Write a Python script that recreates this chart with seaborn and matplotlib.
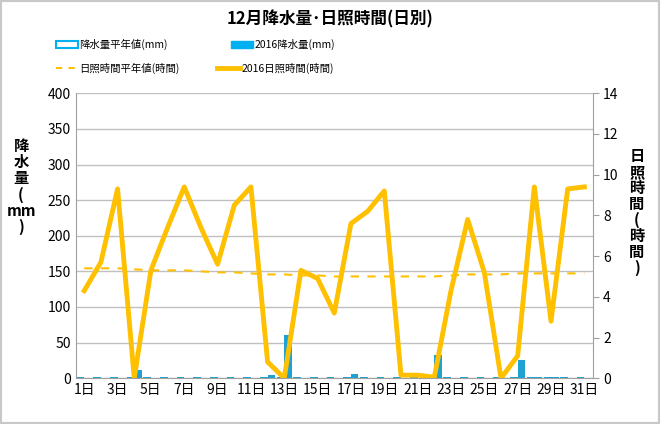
import numpy as np
import pandas as pd
import seaborn as sns
import matplotlib.pyplot as plt
from matplotlib.patches import Patch, Rectangle
from matplotlib.lines import Line2D

plt.rcParams["font.family"] = "Noto Sans CJK JP"

days = list(range(1, 32))
rain_normal = [2.0] * 31
rain_2016 = [0, 0, 0, 12, 0, 0, 0, 0, 0, 0, 0, 5, 60, 0, 0, 0, 6, 0, 0, 0,
             0, 32, 0, 0, 0, 0, 26, 2, 2, 0, 0]
sun_normal = [5.4, 5.4, 5.4, 5.35, 5.3, 5.3, 5.3, 5.25, 5.2, 5.2, 5.15, 5.1, 5.1, 5.05, 5.05,
              5.0, 5.0, 5.0, 5.0, 5.0, 5.0, 5.0, 5.05, 5.1, 5.1, 5.1, 5.15, 5.15, 5.15, 5.15, 5.15]
sun_2016 = [4.3, 5.7, 9.3, 0, 5.3, 7.4, 9.4, 7.4, 5.6, 8.5, 9.4, 0.8, 0, 5.3, 4.9, 3.2,
            7.6, 8.2, 9.2, 0.15, 0.15, 0.05, 4.3, 7.8, 5.2, 0, 1.1, 9.4, 2.8, 9.3, 9.4]
xlabels = [f"{d}日" if d % 2 == 1 else "" for d in days]

blue = "#00b0f0"
gold = "#ffc000"

fig = plt.figure(figsize=(6.6, 4.24), dpi=100)
fig.patches.append(Rectangle((0, 0), 1, 1, transform=fig.transFigure,
                             fill=False, edgecolor="#c8c8c8", linewidth=3))
ax = fig.add_axes([0.115, 0.108, 0.783, 0.672])

df = pd.DataFrame({"day": days * 2,
                   "rain": rain_normal + rain_2016,
                   "kind": ["normal"] * 31 + ["2016"] * 31})
sns.barplot(data=df, x="day", y="rain", hue="kind", palette=[blue, blue],
            width=0.9, ax=ax, legend=False, zorder=2)
ax.set_ylim(0, 400)
ax.set_xlim(-0.5, 30.5)
ax.set_yticks(range(0, 401, 50))
ax.yaxis.grid(True, color="#c0c0c0", linewidth=1)
ax.set_axisbelow(True)
ax.set_xticks(range(31))
ax.set_xticklabels(xlabels, fontsize=10)
ax.tick_params(axis="y", labelsize=10, length=0)
ax.tick_params(axis="x", length=0)
ax.set_xlabel("")
ax.set_ylabel("")
for s in ["top", "right"]:
    ax.spines[s].set_visible(False)
for s in ["left", "bottom"]:
    ax.spines[s].set_color("#a0a0a0")

ax2 = ax.twinx()
x = np.arange(31)
sns.lineplot(x=x, y=sun_normal, ax=ax2, color=gold, linestyle=(0, (4, 4)), linewidth=1.5)
sns.lineplot(x=x, y=sun_2016, ax=ax2, color=gold, linewidth=3.5)
ax2.set_ylim(0, 14)
ax2.set_yticks(range(0, 15, 2))
ax2.tick_params(axis="y", labelsize=10, length=4, color="#a0a0a0")
for s in ["top", "left", "bottom"]:
    ax2.spines[s].set_visible(False)
ax2.spines["right"].set_color("#a0a0a0")

fig.text(0.5, 0.955, "12月降水量･日照時間(日別)", ha="center", va="center",
         fontsize=12, fontweight="bold")
fig.text(0.032, 0.56, "降\n水\n量\n(\nmm\n)", ha="center", va="center",
         fontsize=11, fontweight="bold", linespacing=1.0)
fig.text(0.965, 0.5, "日\n照\n時\n間\n(\n時\n間\n)", ha="center", va="center",
         fontsize=11, fontweight="bold", linespacing=1.0)

h1 = [Patch(facecolor="white", edgecolor=blue, linewidth=1.5),
      Patch(facecolor=blue, edgecolor=blue)]
fig.legend(h1, ["降水量平年値(mm)", "2016降水量(mm)"], loc="upper left",
           bbox_to_anchor=(0.07, 0.93), ncol=2, frameon=False, fontsize=7.5,
           columnspacing=6, handlelength=2.2, handletextpad=0.1)
h2 = [Line2D([], [], color=gold, linestyle=(0, (3, 3)), linewidth=1.5),
      Line2D([], [], color=gold, linewidth=3.5)]
fig.legend(h2, ["日照時間平年値(時間)", "2016日照時間(時間)"], loc="upper left",
           bbox_to_anchor=(0.07, 0.875), ncol=2, frameon=False, fontsize=7.5,
           columnspacing=3.6, handlelength=2.2, handletextpad=0.1)

fig.savefig("out.png", dpi=100)
